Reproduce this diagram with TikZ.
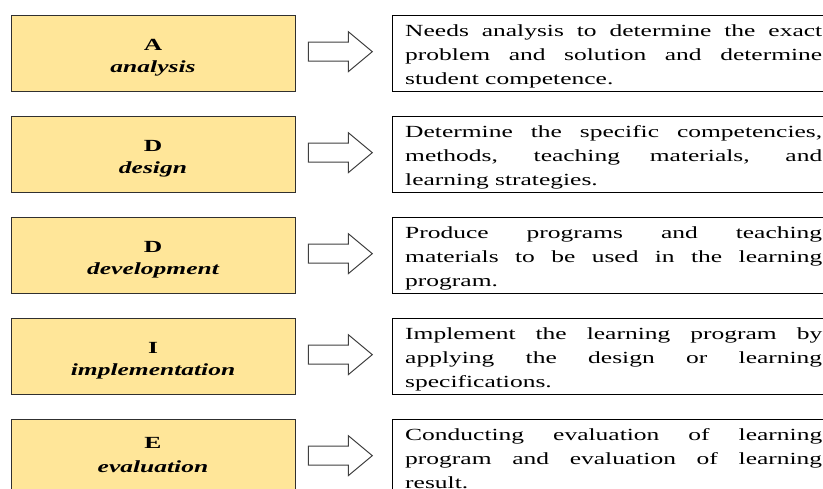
\documentclass[tikz,border=0pt]{standalone}
\usepackage{fontspec}
\setmainfont{Liberation Serif}[FakeStretch=1.5]
\usetikzlibrary{calc}
\definecolor{boxfill}{HTML}{FFE699}
\definecolor{arrowline}{HTML}{404040}
\definecolor{boxline}{HTML}{303030}
\tikzset{
  phase/.style={draw=boxline, line width=1.3pt, fill=boxfill, minimum width=284pt, minimum height=76pt, inner sep=0pt, anchor=north west},
  descbox/.style={draw=black, line width=1pt, minimum width=450pt, minimum height=76pt, inner sep=0pt, anchor=north west},
  letter/.style={font=\fontsize{17}{20}\selectfont\bfseries, anchor=base, inner sep=0pt, text=black},
  word/.style={font=\fontsize{17}{20}\selectfont\bfseries\itshape, anchor=base, inner sep=0pt, text=black},
  desc/.style={font=\fontsize{17}{24}\selectfont, anchor=base west, inner sep=0pt, text=black},
  blockarrow/.style={draw=arrowline, line width=1pt, fill=white, line join=miter},
}
\newcommand{\desctext}[1]{\parbox[t]{417pt}{\tolerance=10000\hyphenpenalty=10000 #1}}
\begin{document}
\begin{tikzpicture}[x=1pt,y=-1pt]
\useasboundingbox (0,0) rectangle (823,488);
\clip (0,0) rectangle (823,488);
% row 1
\node[phase] (L1) at (11,15) {};
\node[letter] (L1a) at (153,50) {A};
\node[word] (L1b) at (153,72) {analysis};
\node[descbox] (R1) at (392,15) {};
\node[desc] (T1) at (405,36.5) {\desctext{Needs analysis to determine the exact\linebreak problem and solution and determine\linebreak student competence.}};
\draw[blockarrow] ($(L1.east)+(12,-11.5)$) -- ++(40,0) -- ++(0,-10.5) -- ++(24,20) -- ++(-24,20) -- ++(0,-10.5) -- ++(-40,0) -- cycle;
% row 2
\node[phase] (L2) at (11,116) {};
\node[letter] (L2a) at (153,151) {D};
\node[word] (L2b) at (153,173) {design};
\node[descbox] (R2) at (392,116) {};
\node[desc] (T2) at (405,137.5) {\desctext{Determine the specific competencies,\linebreak methods, teaching materials, and\linebreak learning strategies.}};
\draw[blockarrow] ($(L2.east)+(12,-11.5)$) -- ++(40,0) -- ++(0,-10.5) -- ++(24,20) -- ++(-24,20) -- ++(0,-10.5) -- ++(-40,0) -- cycle;
% row 3
\node[phase] (L3) at (11,217) {};
\node[letter] (L3a) at (153,252) {D};
\node[word] (L3b) at (153,274) {development};
\node[descbox] (R3) at (392,217) {};
\node[desc] (T3) at (405,238.5) {\desctext{Produce programs and teaching\linebreak materials to be used in the learning\linebreak program.}};
\draw[blockarrow] ($(L3.east)+(12,-11.5)$) -- ++(40,0) -- ++(0,-10.5) -- ++(24,20) -- ++(-24,20) -- ++(0,-10.5) -- ++(-40,0) -- cycle;
% row 4
\node[phase] (L4) at (11,318) {};
\node[letter] (L4a) at (153,353) {I};
\node[word] (L4b) at (153,375) {implementation};
\node[descbox] (R4) at (392,318) {};
\node[desc] (T4) at (405,339.5) {\desctext{Implement the learning program by\linebreak applying the design or learning\linebreak specifications.}};
\draw[blockarrow] ($(L4.east)+(12,-11.5)$) -- ++(40,0) -- ++(0,-10.5) -- ++(24,20) -- ++(-24,20) -- ++(0,-10.5) -- ++(-40,0) -- cycle;
% row 5
\node[phase] (L5) at (11,419) {};
\node[letter] (L5a) at (153,448) {E};
\node[word] (L5b) at (153,472) {evaluation};
\node[descbox] (R5) at (392,419) {};
\node[desc] (T5) at (405,440.5) {\desctext{Conducting evaluation of learning\linebreak program and evaluation of learning\linebreak result.}};
\draw[blockarrow] ($(L5.east)+(12,-11.5)$) -- ++(40,0) -- ++(0,-10.5) -- ++(24,20) -- ++(-24,20) -- ++(0,-10.5) -- ++(-40,0) -- cycle;
\end{tikzpicture}
\end{document}
